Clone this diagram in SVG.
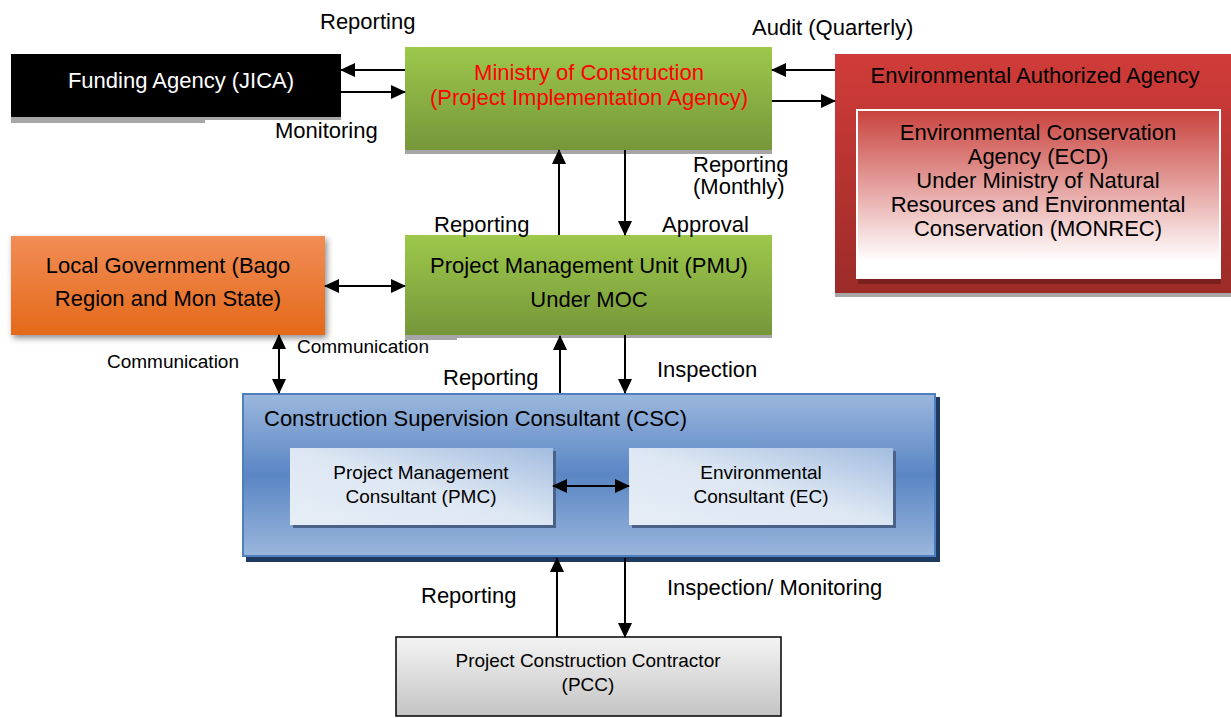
<svg xmlns="http://www.w3.org/2000/svg" width="1231" height="718" viewBox="0 0 1231 718">
<defs>
<linearGradient id="green" x1="0" y1="0" x2="0" y2="1"><stop offset="0" stop-color="#9dc84b"/><stop offset="1" stop-color="#76963a"/></linearGradient>
<linearGradient id="red" x1="0" y1="0" x2="0" y2="1"><stop offset="0" stop-color="#d03c39"/><stop offset="1" stop-color="#9c2b28"/></linearGradient>
<linearGradient id="redinner" x1="0" y1="0" x2="0" y2="1"><stop offset="0" stop-color="#c9423d"/><stop offset="0.9" stop-color="#ffffff"/><stop offset="1" stop-color="#ffffff"/></linearGradient>
<linearGradient id="orange" x1="0" y1="0" x2="0" y2="1"><stop offset="0" stop-color="#f18d55"/><stop offset="1" stop-color="#e4691a"/></linearGradient>
<linearGradient id="blue" x1="0" y1="0" x2="0" y2="1"><stop offset="0" stop-color="#9bb7dd"/><stop offset="0.5" stop-color="#5a86c4"/><stop offset="1" stop-color="#9ab6dc"/></linearGradient>
<linearGradient id="lblue" x1="1" y1="0" x2="0" y2="1"><stop offset="0" stop-color="#a3bde0"/><stop offset="0.5" stop-color="#dde7f3"/><stop offset="1" stop-color="#e6edf6"/></linearGradient>
<linearGradient id="grey" x1="0" y1="0" x2="0" y2="1"><stop offset="0" stop-color="#f4f4f4"/><stop offset="1" stop-color="#c4c4c4"/></linearGradient>
<filter id="ds" x="-10%" y="-10%" width="130%" height="130%"><feDropShadow dx="2" dy="3" stdDeviation="3" flood-color="#000" flood-opacity="0.45"/></filter>
<marker id="ah" markerUnits="userSpaceOnUse" markerWidth="15" markerHeight="14" refX="14" refY="7" orient="auto-start-reverse"><path d="M0,0 L15,7 L0,14 z" fill="#000"/></marker>
</defs>
<style>
text{font-family:"Liberation Sans",Arial,sans-serif;fill:#000}
.t22{font-size:22px}
.t19{font-size:19px}
.c{text-anchor:middle}
.ln{stroke:#000;stroke-width:2;fill:none;marker-end:url(#ah)}
.dbl{marker-start:url(#ah)}
</style>
<rect width="1231" height="718" fill="#fff"/>

<g id="funding">
<rect x="11" y="116" width="330" height="4" fill="#a6a6a6"/>
<rect x="11" y="116" width="194" height="7" fill="#a6a6a6"/>
<rect x="11" y="54" width="330" height="63" fill="#000"/>
<text class="t22 c" x="181" y="88" style="fill:#fff">Funding Agency (JICA)</text>
</g>

<g id="moc">
<rect x="405" y="148" width="367" height="6" fill="#a6a6a6"/>
<rect x="405" y="47" width="367" height="103" fill="url(#green)"/>
<text class="t22 c" x="589" y="80" style="fill:#ff0000">Ministry of Construction</text>
<text class="t22 c" x="589" y="105" style="fill:#ff0000">(Project Implementation Agency)</text>
</g>

<g id="eaa">
<rect x="835" y="290" width="396" height="7" fill="#a6a6a6"/>
<rect x="835" y="54" width="396" height="239" fill="url(#red)"/>
<text class="t22 c" x="1035" y="83">Environmental Authorized Agency</text>
<rect x="858" y="113" width="363" height="171" fill="#7a1f1d"/>
<rect x="857" y="110" width="363" height="168" fill="url(#redinner)" stroke="#fff" stroke-width="2"/>
<text class="t22 c" x="1038" y="140">Environmental Conservation</text>
<text class="t22 c" x="1038" y="164">Agency (ECD)</text>
<text class="t22 c" x="1038" y="188">Under Ministry of Natural</text>
<text class="t22 c" x="1038" y="212">Resources and Environmental</text>
<text class="t22 c" x="1038" y="236">Conservation (MONREC)</text>
</g>

<g id="local">
<rect x="11" y="236" width="314" height="99" fill="url(#orange)" filter="url(#ds)"/>
<text class="t22 c" x="168" y="273">Local Government (Bago</text>
<text class="t22 c" x="168" y="306">Region and Mon State)</text>
</g>

<g id="pmu">
<rect x="405" y="333" width="367" height="5" fill="#a6a6a6"/>
<rect x="405" y="333" width="52" height="7" fill="#a6a6a6"/>
<rect x="405" y="235" width="367" height="100" fill="url(#green)"/>
<text class="t22 c" x="589" y="273">Project Management Unit (PMU)</text>
<text class="t22 c" x="589" y="307">Under MOC</text>
</g>

<g id="csc">
<rect x="246" y="397" width="694" height="165" fill="#1f3a60"/>
<rect x="243" y="394" width="692" height="162" fill="url(#blue)" stroke="#4f7fbf" stroke-width="2"/>
<text class="t22" x="264" y="426">Construction Supervision Consultant (CSC)</text>
</g>

<g id="pmc">
<rect x="293" y="451" width="263" height="77" fill="#4a6288"/>
<rect x="290" y="448" width="263" height="77" fill="url(#lblue)"/>
<text class="t19 c" x="421" y="479">Project Management</text>
<text class="t19 c" x="421" y="503">Consultant (PMC)</text>
</g>

<g id="ec">
<rect x="632" y="451" width="264" height="77" fill="#4a6288"/>
<rect x="629" y="448" width="264" height="77" fill="url(#lblue)"/>
<text class="t19 c" x="761" y="479">Environmental</text>
<text class="t19 c" x="761" y="503">Consultant (EC)</text>
</g>

<g id="pcc">
<rect x="396" y="637" width="385" height="79" fill="url(#grey)" stroke="#000" stroke-width="1.5"/>
<text class="t19 c" x="588" y="667">Project Construction Contractor</text>
<text class="t19 c" x="588" y="691">(PCC)</text>
</g>

<g id="connectors">
<line class="ln" x1="405" y1="70" x2="341" y2="70"/>
<line class="ln" x1="341" y1="92" x2="405" y2="92"/>
<line class="ln" x1="835" y1="70" x2="772" y2="70"/>
<line class="ln" x1="772" y1="101" x2="835" y2="101"/>
<line class="ln" x1="559" y1="235" x2="559" y2="150"/>
<line class="ln" x1="625" y1="150" x2="625" y2="235"/>
<line class="ln dbl" x1="325" y1="286" x2="405" y2="286"/>
<line class="ln dbl" x1="279" y1="335" x2="279" y2="393"/>
<line class="ln" x1="560" y1="393" x2="560" y2="336"/>
<line class="ln" x1="625" y1="335" x2="625" y2="393"/>
<line class="ln dbl" x1="553" y1="486" x2="629" y2="486"/>
<line class="ln" x1="557" y1="637" x2="557" y2="558"/>
<line class="ln" x1="625" y1="558" x2="625" y2="637"/>
</g>

<g id="labels">
<text class="t22" x="320" y="29">Reporting</text>
<text class="t22" x="275" y="138">Monitoring</text>
<text class="t22" x="752" y="35">Audit (Quarterly)</text>
<text class="t22" x="693" y="172">Reporting</text>
<text class="t22" x="693" y="194">(Monthly)</text>
<text class="t22" x="434" y="232">Reporting</text>
<text class="t22" x="662" y="232">Approval</text>
<text class="t19" x="107" y="368">Communication</text>
<text class="t19" x="297" y="353">Communication</text>
<text class="t22" x="443" y="385">Reporting</text>
<text class="t22" x="657" y="377">Inspection</text>
<text class="t22" x="421" y="603">Reporting</text>
<text class="t22" x="667" y="595">Inspection/ Monitoring</text>
</g>
</svg>
